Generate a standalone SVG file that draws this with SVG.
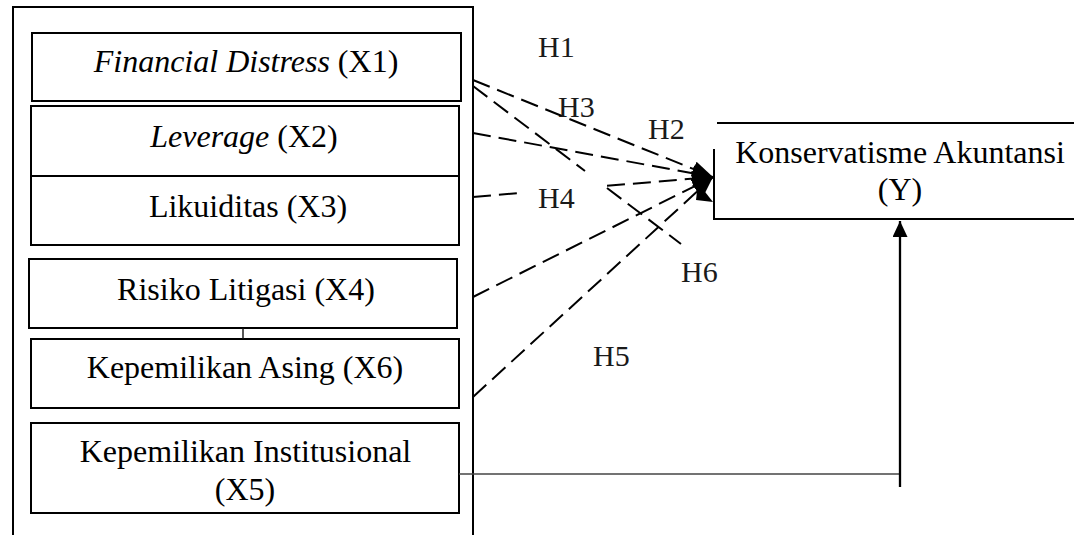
<svg xmlns="http://www.w3.org/2000/svg" width="1074" height="535" viewBox="0 0 1074 535">
<style>
.box{fill:#fff;stroke:#000;stroke-width:2}
.t{font-family:"Liberation Serif","Times New Roman",serif;font-size:32px;fill:#000;text-anchor:middle}
.i{font-style:italic}
.h{font-family:"Liberation Serif","Times New Roman",serif;font-size:30px;fill:#1a1a1a}
.dash{fill:none;stroke:#000;stroke-width:2;stroke-dasharray:18 8}
.solid{fill:none;stroke:#000;stroke-width:2.3}
.thin{fill:none;stroke:#444;stroke-width:1.4}
</style>
<defs>
<marker id="ah" markerUnits="userSpaceOnUse" markerWidth="16" markerHeight="15" refX="16" refY="7.5" orient="auto">
<path d="M0,0 L16,7.5 L0,15 z" fill="#000"/>
</marker>
<marker id="ahd" markerUnits="userSpaceOnUse" markerWidth="21" markerHeight="16" refX="21" refY="8" orient="auto">
<path d="M0,0 L21,8 L0,16 z" fill="#000"/>
</marker>
</defs>
<rect width="1074" height="535" fill="#fff"/>
<g id="outer">
<rect x="13" y="7" width="460" height="540" fill="none" stroke="#000" stroke-width="2"/>
</g>
<g id="x1">
<rect class="box" x="32" y="33" width="429" height="68"/>
<text class="t" x="246" y="72"><tspan class="i">Financial Distress</tspan> (X1)</text>
</g>
<g id="x2">
<rect class="box" x="31" y="106" width="428" height="70"/>
<text class="t" x="244" y="147"><tspan class="i">Leverage</tspan> (X2)</text>
</g>
<g id="x3">
<rect class="box" x="31" y="176" width="428" height="69"/>
<text class="t" x="248" y="217">Likuiditas (X3)</text>
</g>
<g id="x4">
<rect class="box" x="29" y="259" width="428" height="69"/>
<text class="t" x="246" y="300">Risiko Litigasi (X4)</text>
</g>
<g id="x6">
<rect class="box" x="31" y="339" width="428" height="69"/>
<text class="t" x="245" y="378">Kepemilikan Asing (X6)</text>
</g>
<g id="x5">
<rect class="box" x="31" y="423" width="428" height="90"/>
<text class="t" x="245.5" y="462">Kepemilikan Institusional</text>
<text class="t" x="245" y="500">(X5)</text>
</g>
<g id="y">
<path d="M717,123 H1080" fill="none" stroke="#000" stroke-width="2"/>
<path d="M714,149 V219 H1080" fill="none" stroke="#000" stroke-width="2"/>
<text class="t" x="900" y="163">Konservatisme Akuntansi</text>
<text class="t" x="900" y="199.5">(Y)</text>
</g>
<g id="connectors">
<line x1="243" y1="328" x2="243" y2="339" stroke="#111" stroke-width="1.4"/>
<path class="dash" d="M473,80 L713,177" marker-end="url(#ahd)"/>
<path class="dash" d="M473,86 L585,171"/>
<path class="dash" d="M607,188 L681,244"/>
<path class="dash" d="M473,133 L713,177" marker-end="url(#ahd)"/>
<path class="dash" d="M473,197 L520,193"/>
<path class="dash" d="M607,185.8 L713,177" marker-end="url(#ahd)"/>
<path class="dash" d="M473,297 L713,177" marker-end="url(#ahd)"/>
<path class="dash" d="M473,397 L713,177" marker-end="url(#ahd)"/>
<polygon points="698,183 713,202 696,200" fill="#000"/>
<path class="thin" d="M459,474 H900"/>
<path class="solid" d="M900,487 V221" marker-end="url(#ah)"/>
</g>
<g id="labels">
<text class="h" x="538" y="57">H1</text>
<text class="h" x="558" y="117">H3</text>
<text class="h" x="648" y="139">H2</text>
<text class="h" x="538" y="208">H4</text>
<text class="h" x="681" y="282">H6</text>
<text class="h" x="593" y="366">H5</text>
</g>
</svg>
